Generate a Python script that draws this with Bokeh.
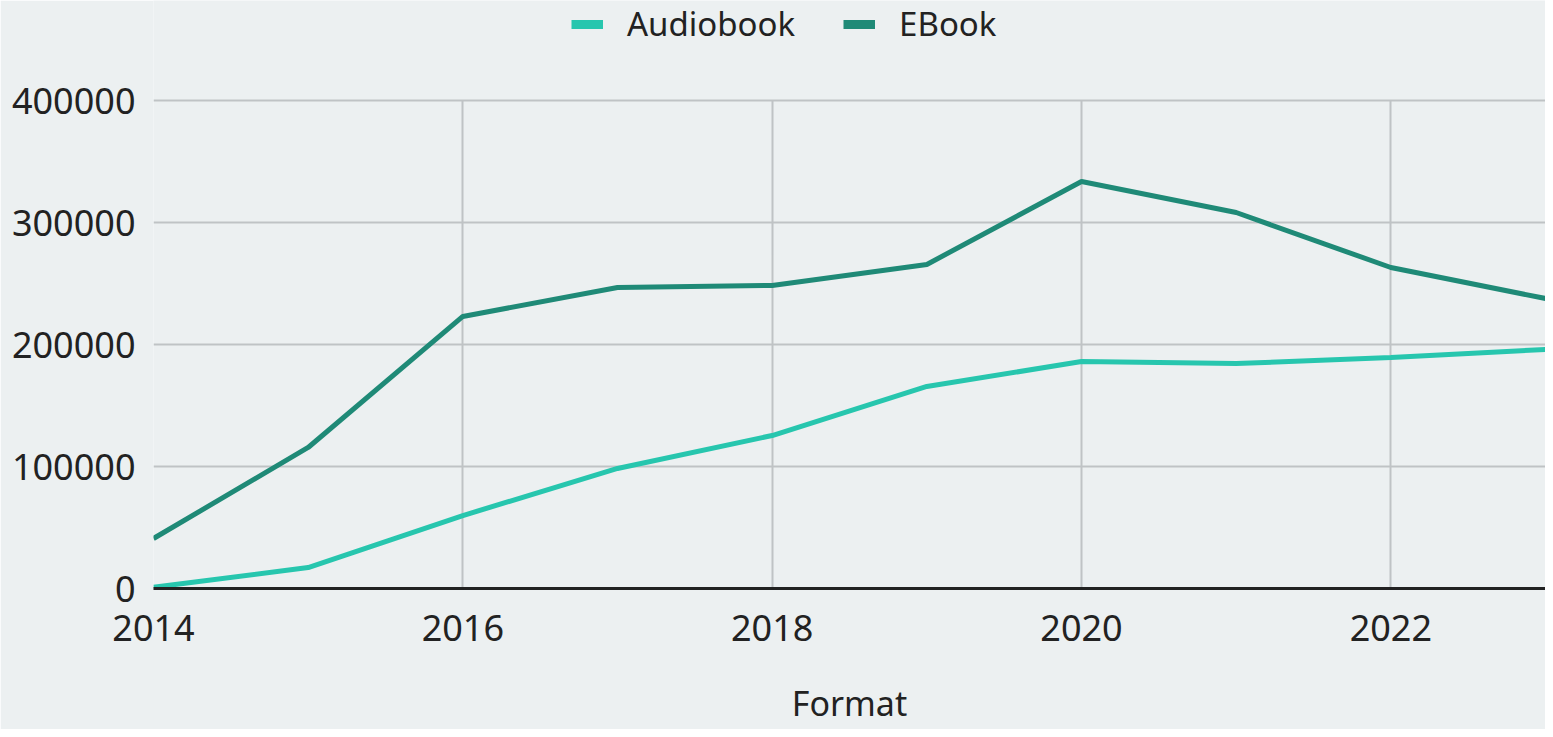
from bokeh.plotting import figure
from bokeh.models import ColumnDataSource, Legend, LegendItem, Range1d, FixedTicker
from bokeh.embed import file_html
from bokeh.resources import INLINE

years = [2014, 2015, 2016, 2017, 2018, 2019, 2020, 2021, 2022, 2023]
audiobook = [1000, 17200, 59800, 98400, 125400, 165600, 186000, 184400, 189300, 195900]
ebook = [41000, 115600, 223000, 246700, 248400, 265600, 333600, 308200, 263100, 237700]
x_ticks = [2014, 2016, 2018, 2020, 2022]
y_ticks = [0, 100000, 200000, 300000, 400000]
Y_MAX = 400000

BG = "#ecf0f1"
C_AUDIO = "#27c6ae"
C_EBOOK = "#1f8a77"
TXT = "#222222"
FONT = "Noto Sans"

LEFT = 153
FW = 1545 - LEFT
PLOT_H = 488   # pixel height of the 0..Y_MAX data area
TOP = 100      # pixel space above the data area (holds the legend)
FH = PLOT_H + TOP
p = figure(width=1545, height=729, frame_width=FW, frame_height=FH,
           output_backend="svg", toolbar_location=None,
           x_range=Range1d(2014, 2023), y_range=Range1d(0, Y_MAX * FH / PLOT_H),
           min_border_left=LEFT, min_border_right=0, min_border_top=0,
           min_border_bottom=729 - FH)
p.background_fill_color = BG
p.border_fill_color = BG
p.outline_line_color = None

src = ColumnDataSource(dict(x=years, a=audiobook, e=ebook))
r_a = p.line("x", "a", source=src, line_color=C_AUDIO, line_width=5)
r_e = p.line("x", "e", source=src, line_color=C_EBOOK, line_width=5)

# legend-only swatches (no visible data)
nan_src = ColumnDataSource(dict(x=[years[0]], y=[float("nan")]))
l_a = p.line("x", "y", source=nan_src, line_color=C_AUDIO, line_width=9)
l_e = p.line("x", "y", source=nan_src, line_color=C_EBOOK, line_width=9)

# location is the legend's bottom-left corner, in frame pixels
legend = Legend(items=[LegendItem(label="Audiobook", renderers=[l_a]),
                       LegendItem(label="EBook", renderers=[l_e])],
                orientation="horizontal", location=(571 - LEFT, FH - 46),
                background_fill_alpha=0, border_line_color=None,
                label_text_font=FONT, label_text_font_size="33px", label_text_color=TXT,
                label_height=20, glyph_width=32, glyph_height=20, spacing=48, label_standoff=24,
                margin=0, padding=0)
p.add_layout(legend, "center")

p.xaxis.ticker = FixedTicker(ticks=x_ticks)
p.yaxis.ticker = FixedTicker(ticks=y_ticks)
for ax in (p.xaxis, p.yaxis):
    ax.major_tick_line_color = None
    ax.minor_tick_line_color = None
    ax.major_tick_out = 0
    ax.major_tick_in = 0
    ax.minor_tick_out = 0
    ax.major_label_text_font = FONT
    ax.major_label_text_font_size = "36px"
    ax.major_label_text_color = TXT
p.yaxis.axis_line_color = None
p.xaxis.axis_line_color = "#222222"
p.xaxis.axis_line_width = 3
p.xaxis.major_label_standoff = 26
p.yaxis.major_label_standoff = 18
p.yaxis.formatter.use_scientific = False
p.xaxis.axis_label = "Format"
p.xaxis.axis_label_text_font = FONT
p.xaxis.axis_label_text_font_size = "34px"
p.xaxis.axis_label_text_font_style = "normal"
p.xaxis.axis_label_text_color = TXT
p.xaxis.axis_label_standoff = 36

p.xgrid.grid_line_color = "#bfc3c5"
p.ygrid.grid_line_color = "#bfc3c5"
p.xgrid.grid_line_width = 2
p.ygrid.grid_line_width = 2
p.xgrid.cross_bounds = (0, Y_MAX)

open("out.html", "w").write(file_html(p, INLINE))
